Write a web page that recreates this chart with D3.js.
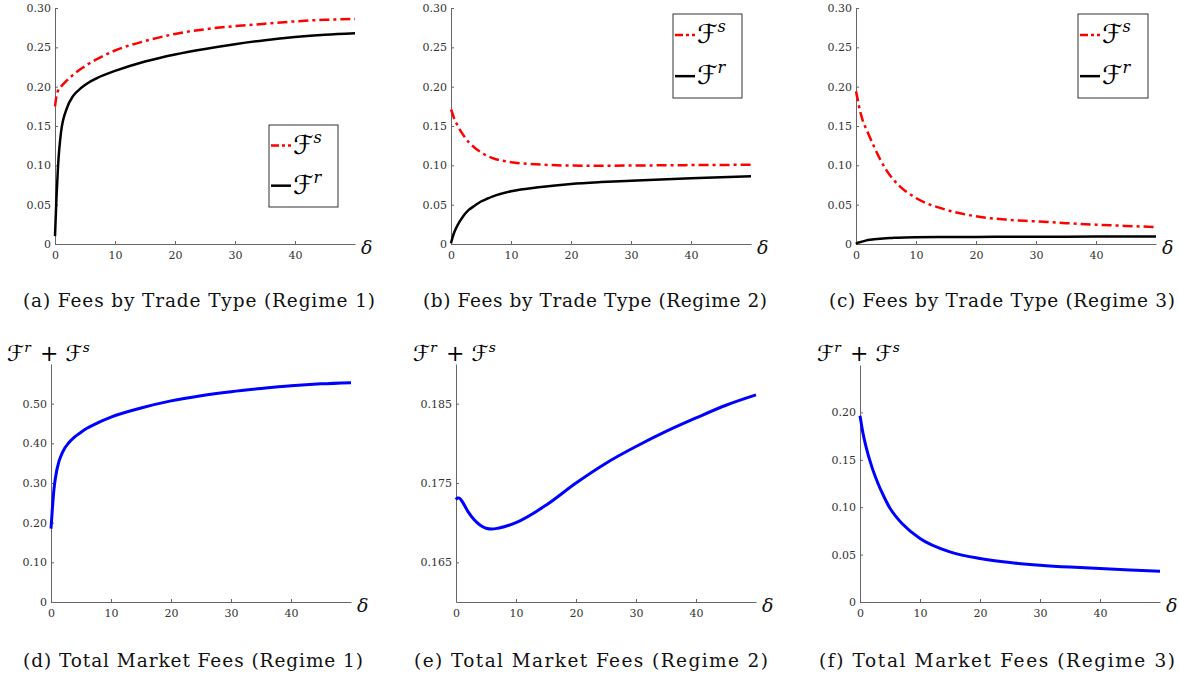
<!DOCTYPE html>
<html>
<head>
<meta charset="utf-8">
<script src="https://cdn.jsdelivr.net/npm/d3@7"></script>
<style>
  body { margin: 0; background: #fff; }
  svg text { font-family: "DejaVu Serif", serif; }
  .cal { font-family: "DejaVu Sans", sans-serif; }
</style>
</head>
<body>
<div class="canvas"></div>
<script>
// Data (delta grid shared by all series)

const delta = [0, 0.25, 0.5, 1, 2, 3, 4, 5, 6, 7, 10, 15, 20, 25, 30, 35, 40, 45, 50];

// Regime 1
const fs1 = [0.175, 0.188, 0.195, 0.200, 0.208, 0.215, 0.221, 0.226, 0.231, 0.235, 0.246, 0.258, 0.267, 0.273, 0.277, 0.280, 0.283, 0.285, 0.286];
const fr1 = [0.010, 0.060, 0.098, 0.142, 0.173, 0.188, 0.196, 0.202, 0.207, 0.211, 0.220, 0.232, 0.241, 0.248, 0.254, 0.259, 0.263, 0.266, 0.268];
const total1 = [0.185, 0.240, 0.285, 0.335, 0.380, 0.402, 0.417, 0.428, 0.438, 0.446, 0.466, 0.489, 0.507, 0.520, 0.530, 0.538, 0.545, 0.550, 0.553];

// Regime 2
const fs2 = [0.171, 0.166, 0.160, 0.152, 0.139, 0.129, 0.122, 0.1165, 0.112, 0.109, 0.104, 0.101, 0.0997, 0.0995, 0.0997, 0.1000, 0.1003, 0.1005, 0.1007];
const fr2 = [0.001, 0.008, 0.014, 0.0225, 0.035, 0.0436, 0.049, 0.054, 0.0575, 0.0606, 0.067, 0.0725, 0.0763, 0.0787, 0.0805, 0.0821, 0.0835, 0.0848, 0.086];
const total2 = [0.1729, 0.1731, 0.1731, 0.1727, 0.1714, 0.1704, 0.1697, 0.1693, 0.1692, 0.1693, 0.1700, 0.1722, 0.1750, 0.1775, 0.1796, 0.1815, 0.1832, 0.1848, 0.1861];

// Regime 3
const fs3 = [0.194, 0.185, 0.175, 0.160, 0.141, 0.124, 0.108, 0.0945, 0.084, 0.0754, 0.0585, 0.0436, 0.0352, 0.031, 0.0288, 0.0265, 0.0246, 0.023, 0.0216];
const fr3 = [0, 0.0015, 0.002, 0.003, 0.005, 0.006, 0.0068, 0.0074, 0.0077, 0.008, 0.0085, 0.0088, 0.009, 0.0091, 0.0092, 0.0093, 0.0094, 0.0095, 0.0095];
const total3 = [0.1965, 0.187, 0.178, 0.164, 0.142, 0.125, 0.111, 0.0988, 0.090, 0.0829, 0.067, 0.0529, 0.0459, 0.0416, 0.0388, 0.0368, 0.0353, 0.0338, 0.0325];

const xTicks = [0, 10, 20, 30, 40];
const feeTicks = [0, 0.05, 0.10, 0.15, 0.20, 0.25, 0.30];
const total1Ticks = [0, 0.10, 0.20, 0.30, 0.40, 0.50];
const total2Ticks = [0.165, 0.175, 0.185];
const total3Ticks = [0, 0.05, 0.10, 0.15, 0.20];

const captions = [
    "(a) Fees by Trade Type (Regime 1)",
    "(b) Fees by Trade Type (Regime 2)",
    "(c) Fees by Trade Type (Regime 3)",
    "(d) Total Market Fees (Regime 1)",
    "(e) Total Market Fees (Regime 2)",
    "(f) Total Market Fees (Regime 3)"
];

// styles
const RED = "#ff0000", BLACK = "#000", BLUE = "#0000ff";
const redDash = "10,4,3,4";

const svg = d3.select(".canvas")
    .append("svg")
        .attr("width", 1179)
        .attr("height", 677)
        .style("background", "#fff");

// panel layout
const panels = [
    { x0: 55,  yBot: 244, yTop: 8, domain: [0, 0.30], ticks: feeTicks, fmt: ".2f",
      series: [{ v: fs1, c: RED, dash: redDash }, { v: fr1, c: BLACK }],
      legend: { x: 269, y: 125, w: 69, h: 82 }, cap: captions[0], cx: 199, cy: 307, tl: 352 },
    { x0: 451, yBot: 244, yTop: 8, domain: [0, 0.30], ticks: feeTicks, fmt: ".2f",
      series: [{ v: fs2, c: RED, dash: redDash }, { v: fr2, c: BLACK }],
      legend: { x: 673, y: 14, w: 69, h: 84 }, cap: captions[1], cx: 595, cy: 307, tl: 344 },
    { x0: 856, yBot: 244, yTop: 8, domain: [0, 0.30], ticks: feeTicks, fmt: ".2f",
      series: [{ v: fs3, c: RED, dash: redDash }, { v: fr3, c: BLACK }],
      legend: { x: 1078, y: 14, w: 70, h: 84 }, cap: captions[2], cx: 1002, cy: 307, tl: 346 },
    { x0: 51,  yBot: 602, yTop: 364, domain: [0, 0.60], ticks: total1Ticks, fmt: ".2f",
      series: [{ v: total1, c: BLUE, w: 3 }], ylab: 7, cap: captions[3], cx: 193, cy: 667, tl: 340 },
    { x0: 456, yBot: 602, yTop: 364, domain: [0.16, 0.19], ticks: total2Ticks, fmt: ".3f",
      series: [{ v: total2, c: BLUE, w: 3 }], ylab: 413, cap: captions[4], cx: 591, cy: 667, tl: 354 },
    { x0: 860, yBot: 602, yTop: 365, domain: [0, 0.25], ticks: total3Ticks, fmt: ".2f",
      series: [{ v: total3, c: BLUE, w: 3 }], ylab: 817, cap: captions[5], cx: 997, cy: 667, tl: 356 }
];

// calligraphic F with a superscript, as tspans
function scriptF(sel, sup, size) {
    sel.append("tspan")
        .attr("class", "cal")
        .style("font-style", "italic")
        .style("font-size", size + "px")
        .text("\u2131");
    sel.append("tspan")
        .attr("dy", -size * 0.42)
        .style("font-style", "italic")
        .style("font-size", (size * 0.62) + "px")
        .text(sup);
    sel.append("tspan")
        .attr("dy", size * 0.42)
        .style("font-size", size + "px")
        .text("\u200A");
}

panels.forEach(p => {
    const x = d3.scaleLinear().domain([0, 50]).range([p.x0, p.x0 + 300]);
    const y = d3.scaleLinear().domain(p.domain).range([p.yBot, p.yTop]);

    // x axis
    svg.append("g")
        .attr("transform", `translate(0,${p.yBot})`)
        .call(d3.axisBottom(x)
            .tickValues(xTicks)
            .tickSizeInner(-3)
            .tickSizeOuter(0)
            .tickPadding(7))
        .call(g => g.select(".domain").attr("stroke", "#666"))
        .call(g => g.selectAll(".tick line").attr("stroke", "#666"))
        .call(g => g.selectAll(".tick text")
            .attr("fill", "#333")
            .style("font-size", "11px"));

    // y axis
    svg.append("g")
        .attr("transform", `translate(${p.x0},0)`)
        .call(d3.axisLeft(y)
            .tickValues(p.ticks)
            .tickFormat(d => d === 0 ? "0" : d3.format(p.fmt)(d))
            .tickSizeInner(-3)
            .tickSizeOuter(0)
            .tickPadding(4))
        .call(g => g.select(".domain").attr("stroke", "#666"))
        .call(g => g.selectAll(".tick line").attr("stroke", "#666"))
        .call(g => g.selectAll(".tick text")
            .attr("fill", "#333")
            .style("font-size", "11px"));

    // delta label
    svg.append("text")
        .attr("x", p.x0 + 306)
        .attr("y", p.yBot + 10)
        .style("font-style", "italic")
        .style("font-size", "19px")
        .attr("fill", "#111")
        .text("\u03B4");

    // lines
    const line = d3.line()
        .x((d, i) => x(delta[i]))
        .y(d => y(d))
        .curve(d3.curveMonotoneX);

    p.series.forEach(s => {
        svg.append("path")
            .datum(s.v)
            .attr("fill", "none")
            .attr("stroke", s.c)
            .attr("stroke-width", s.w || 2.5)
            .attr("stroke-dasharray", s.dash || null)
            .attr("d", line);
    });

    // legend box
    if (p.legend) {
        const L = p.legend;
        svg.append("rect")
            .attr("x", L.x).attr("y", L.y)
            .attr("width", L.w).attr("height", L.h)
            .attr("fill", "#fff")
            .attr("stroke", "#333")
            .attr("stroke-width", 1);
        const rows = [{ c: RED, dash: "8,3,3,3", sup: "s" }, { c: BLACK, sup: "r" }];
        rows.forEach((r, i) => {
            const ly = L.y + L.h * (i === 0 ? 0.25 : 0.74);
            svg.append("line")
                .attr("x1", L.x + 2).attr("x2", L.x + 22)
                .attr("y1", ly).attr("y2", ly)
                .attr("stroke", r.c)
                .attr("stroke-width", 2.5)
                .attr("stroke-dasharray", r.dash || null);
            svg.append("text")
                .attr("x", L.x + 24)
                .attr("y", ly + 8)
                .attr("fill", "#000")
                .call(scriptF, r.sup, 26);
        });
    }

    // y label for total panels
    if (p.ylab !== undefined) {
        const t = svg.append("text")
            .attr("x", p.ylab)
            .attr("y", 361)
            .attr("fill", "#000");
        scriptF(t, "r", 22);
        t.append("tspan").style("font-size", "22px").text(" + ");
        scriptF(t, "s", 22);
    }

    // caption
    svg.append("text")
        .attr("x", p.cx)
        .attr("y", p.cy)
        .attr("text-anchor", "middle")
        .attr("textLength", p.tl)
        .attr("lengthAdjust", "spacing")
        .style("font-size", "18.5px")
        .attr("fill", "#111")
        .text(p.cap);
});
</script>
</body>
</html>
